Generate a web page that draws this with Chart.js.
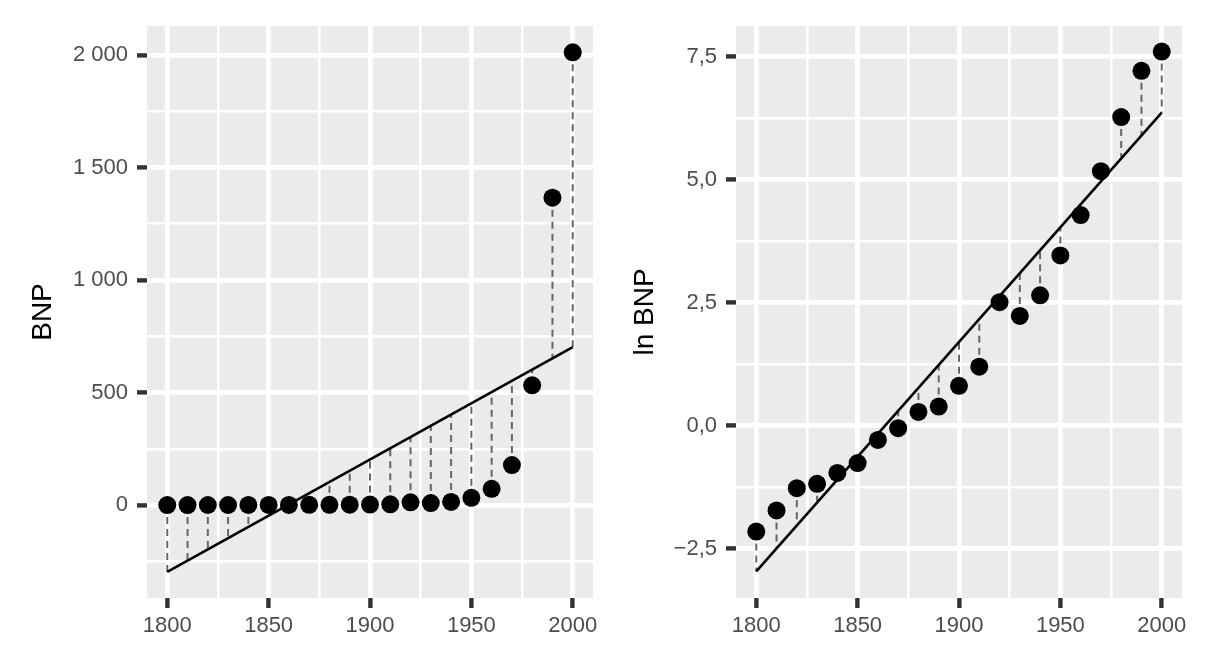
<!DOCTYPE html>
<html>
<head>
<meta charset="utf-8">
<script src="https://cdn.jsdelivr.net/npm/chart.js@4.4.1/dist/chart.umd.min.js"></script>
<style>
body{margin:0;background:#fff;}
.panel{position:absolute;top:0;width:605px;height:668px;}
#left{left:0;}
#right{left:605px;}
</style>
</head>
<body>
<div class="panel" id="left"><canvas id="bnpChart"></canvas></div>
<div class="panel" id="right"><canvas id="lnChart"></canvas></div>
<script>

/* Data */

const years=[1800,1810,1820,1830,1840,1850,1860,1870,1880,1890,1900,
1910,1920,1930,1940,1950,1960,1970,1980,1990,2000];

const bnp=[0.1,0.2,0.3,0.3,0.4,0.5,0.7,1,1.3,1.5,2.2,
3.3,12,9,14,32,72,178,532,1366,2012];

const lnBnp=[-2.15,-1.72,-1.27,-1.18,-0.96,-0.76,-0.29,-0.05,0.28,0.39,0.81,
1.20,2.51,2.23,2.65,3.46,4.28,5.17,6.27,7.21,7.60];

const fitYears=[1800,2000];
const bnpFit=[-297,702];
const lnFit=[-2.96,6.36];

const xTicks=[1800,1825,1850,1875,1900,1925,1950,1975,2000];
const bnpTicks=[-250,0,250,500,750,1000,1250,1500,1750,2000];
const lnTicks=[-2.5,-1.25,0,1.25,2.5,3.75,5,6.25,7.5];

/* Styles */

const FONT="'Liberation Sans', Arial, sans-serif";
const MAJOR=4.8, MINOR=2.6;

/* Plugins */

const panelBg={
id:"panelBg",
beforeDraw(chart){
const {ctx,chartArea:a}=chart;
ctx.save();
ctx.fillStyle="#EBEBEB";
ctx.fillRect(a.left,a.top,a.right-a.left,a.bottom-a.top);
ctx.restore();
}
};

const residuals={
id:"residuals",
beforeDatasetsDraw(chart){
const {ctx}=chart;
const xs=chart.scales.x, ys=chart.scales.y;
const pts=chart.data.datasets[0].data;
const fit=chart.data.datasets[1].data;
const slope=(fit[1].y-fit[0].y)/(fit[1].x-fit[0].x);
ctx.save();
ctx.strokeStyle="#666666";
ctx.lineWidth=2;
ctx.setLineDash([7,5]);
pts.forEach(p=>{
const fitted=fit[0].y+slope*(p.x-fit[0].x);
const px=xs.getPixelForValue(p.x);
ctx.beginPath();
ctx.moveTo(px,ys.getPixelForValue(p.y));
ctx.lineTo(px,ys.getPixelForValue(fitted));
ctx.stroke();
});
ctx.restore();
}
};

/* Builder */

function isMajor(v,step){
return Math.abs(v/step-Math.round(v/step))<1e-6;
}

function makeChart(canvas,values,fit,yTicks,yMin,yMax,yStep,yTitle,fmt,yWidth,titlePad,rightPad){

return new Chart(canvas,{

data:{
datasets:[
{
type:"scatter",
data:years.map((yr,i)=>({x:yr,y:values[i]})),
pointRadius:9,
pointHoverRadius:9,
backgroundColor:"#000",
borderWidth:0
},
{
type:"line",
data:fitYears.map((yr,i)=>({x:yr,y:fit[i]})),
borderColor:"#000",
borderWidth:2.6,
pointRadius:0,
fill:false
}
]
},

options:{
responsive:true,
maintainAspectRatio:false,
animation:false,
layout:{padding:{left:0,right:rightPad,top:26,bottom:0}},
plugins:{legend:{display:false},tooltip:{enabled:false}},
scales:{
x:{
type:"linear",
min:1790,
max:2010,
afterBuildTicks:ax=>{ax.ticks=xTicks.map(v=>({value:v}));},
afterFit:ax=>{ax.height=70;},
border:{display:false},
grid:{
color:"#fff",
lineWidth:c=>isMajor(c.tick.value,50)?MAJOR:MINOR,
tickColor:c=>isMajor(c.tick.value,50)?"#333333":"rgba(0,0,0,0)",
tickWidth:4.4,
tickLength:10
},
ticks:{
autoSkip:false,
maxRotation:0,
padding:5,
color:"#4D4D4D",
font:{family:FONT,size:22},
callback:v=>isMajor(v,50)?String(v):""
}
},
y:{
type:"linear",
min:yMin,
max:yMax,
afterBuildTicks:ax=>{ax.ticks=yTicks.map(v=>({value:v}));},
afterFit:ax=>{ax.width=yWidth;},
border:{display:false},
grid:{
color:"#fff",
lineWidth:c=>isMajor(c.tick.value,yStep)?MAJOR:MINOR,
tickColor:c=>isMajor(c.tick.value,yStep)?"#333333":"rgba(0,0,0,0)",
tickWidth:4.4,
tickLength:10
},
ticks:{
autoSkip:false,
padding:9,
color:"#4D4D4D",
font:{family:FONT,size:22},
callback:v=>isMajor(v,yStep)?fmt(v):""
},
title:{
display:true,
text:yTitle,
color:"#000",
font:{family:FONT,size:28},
padding:{top:titlePad,bottom:0}
}
}
}
},

plugins:[panelBg,residuals]

});

}

/* Formats */

const spaced=v=>String(v).replace(/\B(?=(\d{3})+(?!\d))/g," ");
const comma=v=>v.toFixed(1).replace(".",",").replace("-","\u2212");

/* Charts */

makeChart(bnpChart,bnp,bnpFit,bnpTicks,-413,2129,500,"BNP",spaced,147,26,12);

makeChart(lnChart,lnBnp,lnFit,lnTicks,-3.5,8.12,2.5,"ln BNP",comma,131,23,28);

</script>
</body>
</html>
